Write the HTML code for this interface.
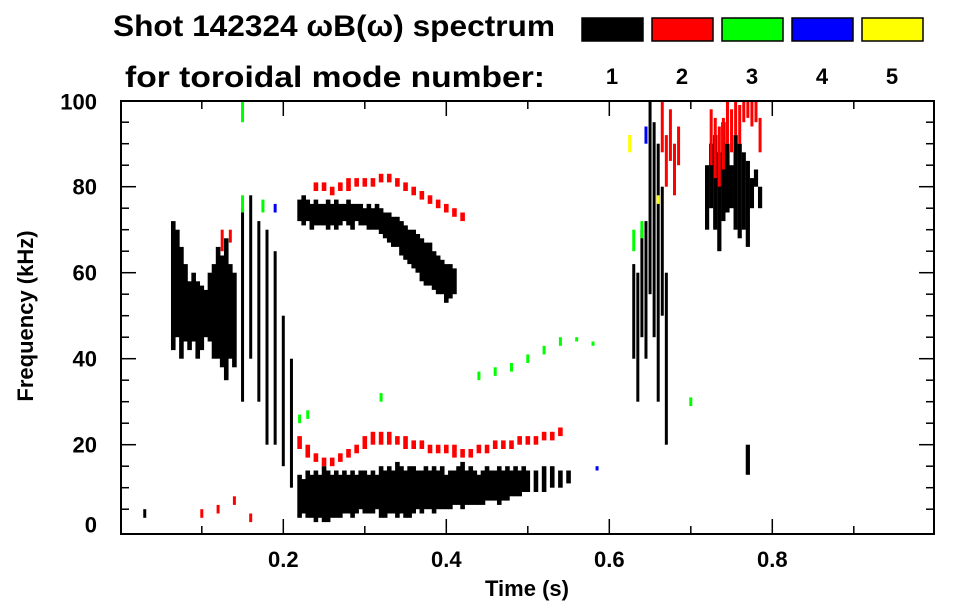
<!DOCTYPE html>
<html><head><meta charset="utf-8"><style>
html,body{margin:0;padding:0;background:#fff;}
svg{display:block;font-family:"Liberation Sans",Arial,sans-serif;font-weight:bold;}
</style></head><body>
<svg id="chart" width="963" height="615" viewBox="0 0 963 615" xmlns="http://www.w3.org/2000/svg">
<text x="113" y="36" font-size="30" textLength="442" lengthAdjust="spacingAndGlyphs">Shot 142324 ωB(ω) spectrum</text>
<text x="125" y="87" font-size="30" textLength="420" lengthAdjust="spacingAndGlyphs">for toroidal mode number:</text>
<g id="legend"></g>
<g id="marks"></g>
<g id="axes"></g>
</svg>
<script>
// ---- data ----
const modeNumbers = ["1","2","3","4","5"];
const modeColors = ["#000000","#ff0000","#00ff00","#0000ff","#ffff00"];
const xTickLabels = [0.2,0.4,0.6,0.8];
const yTickLabels = [0,20,40,60,80,100];

// black (n=1) time / low / high (kHz)
const blackT  = [0.03,0.065,0.07,0.075,0.08,0.085,0.09,0.095,0.10,0.105,0.11,0.115,0.12,0.125,0.13,0.135,0.14,0.15,0.16,0.17,0.18,0.19,0.20,0.21,
 0.22,0.225,0.23,0.235,0.24,0.245,0.25,0.255,0.26,0.265,0.27,0.275,0.28,0.285,0.29,0.295,0.30,0.305,0.31,0.315,0.32,0.325,0.33,0.335,0.34,0.345,0.35,0.355,0.36,0.365,0.37,0.375,0.38,0.385,0.39,0.395,0.40,0.405,0.41,
 0.22,0.225,0.23,0.235,0.24,0.245,0.25,0.255,0.26,0.265,0.27,0.275,0.28,0.285,0.29,0.295,0.30,0.305,0.31,0.315,0.32,0.325,0.33,0.335,0.34,0.345,0.35,0.355,0.36,0.365,0.37,0.375,0.38,0.385,0.39,0.395,0.40,0.405,0.41,0.415,0.42,0.425,0.43,0.435,0.44,0.445,0.45,0.455,0.46,0.465,0.47,0.475,0.48,0.485,0.49,0.495,0.50,0.51,0.52,0.53,0.54,0.55,
 0.63,0.635,0.64,0.645,0.65,0.655,0.66,0.665,0.67,0.72,0.725,0.73,0.735,0.74,0.745,0.75,0.755,0.76,0.765,0.77,0.775,0.78,0.785,0.77];
const blackLo = [3,42,45,40,44,42,44,40,42,45,44,40,40,38,35,40,38,30,40,30,20,20,15,10,
 72,71,72,70,71,71,71,70,71,70,71,72,71,70,72,71,71,70,70,70,69,68,67,66,66,64,63,62,61,60,58,57,57,56,55,55,53,54,55,
 3,4,3,3,2,3,2,2,3,3,3,4,4,3,4,5,4,4,4,5,3,3,4,4,3,4,3,3,4,5,4,5,5,4,5,5,5,5,6,6,5,6,6,6,6,6,7,7,7,6,7,7,8,8,8,9,9,9,9,10,10,11,
 40,30,45,40,55,45,30,50,20,70,75,70,65,72,74,75,70,68,70,66,75,80,75,13];
const blackHi = [5,72,70,66,62,58,60,58,57,56,60,62,66,64,68,62,60,75,78,72,70,65,50,40,
 77,78,77,76,77,76,76,77,76,77,76,76,77,76,76,76,75,76,75,76,75,74,74,73,73,72,71,70,70,69,68,67,67,65,64,63,62,62,61,
 13,12,14,13,14,13,15,14,13,14,13,14,13,14,13,14,14,13,14,13,15,14,15,14,16,15,14,15,15,14,14,15,14,15,14,15,13,14,14,15,16,14,15,14,13,14,15,14,14,15,14,15,14,15,14,15,14,14,15,15,14,14,
 62,60,70,72,100,95,90,80,60,85,90,92,88,95,90,85,92,90,88,86,82,84,80,20];

// red (n=2)
const redT  = [0.10,0.12,0.14,0.16,0.22,0.23,0.24,0.25,0.26,0.27,0.28,0.29,0.30,0.31,0.32,0.33,0.34,0.35,0.36,0.37,0.38,0.39,0.40,0.41,0.42,0.43,0.44,0.45,0.46,0.47,0.48,0.49,0.50,0.51,0.52,0.53,0.54,
 0.24,0.25,0.26,0.27,0.28,0.29,0.30,0.31,0.32,0.33,0.34,0.35,0.36,0.37,0.38,0.39,0.40,0.41,0.42,
 0.665,0.67,0.675,0.68,0.685,0.725,0.73,0.735,0.74,0.745,0.75,0.755,0.76,0.765,0.77,0.775,0.78,0.785,0.125,0.135];
const redLo = [3,4,6,2,19,17,16,15,15,16,17,18,19,20,20,20,20,19,19,19,18,18,18,17,17,17,18,18,19,19,19,20,20,20,21,21,22,
 79,79,78,79,79,80,80,80,81,81,80,79,78,77,76,75,74,73,72,
 88,80,86,78,85,85,82,80,84,90,88,92,90,95,96,94,95,88,65,67];
const redHi = [5,6,8,4,22,20,18,17,17,18,19,20,22,23,23,23,22,22,21,21,20,20,20,20,19,19,20,20,21,21,21,22,22,22,23,23,24,
 81,81,80,81,82,82,82,82,83,83,82,81,80,79,78,77,76,75,74,
 100,92,98,90,94,98,96,94,96,100,98,100,99,100,100,100,100,96,70,70];

// green (n=3)
const greenT  = [0.15,0.15,0.175,0.22,0.23,0.32,0.44,0.46,0.48,0.50,0.52,0.54,0.56,0.58,0.63,0.64,0.70];
const greenLo = [95,74,74,25,26,30,35,36,37,39,41,43,44,43,65,68,29];
const greenHi = [100,78,77,27,28,32,37,38,39,41,43,45,45,44,70,72,31];

// blue (n=4)
const blueT  = [0.645,0.19,0.585];
const blueLo = [90,74,14];
const blueHi = [94,76,15];

// yellow (n=5)
const yellowT  = [0.625,0.66];
const yellowLo = [88,76];
const yellowHi = [92,78];

// ---- axes functions ----
const X0=121, X1=934, Y0=534, Y1=101;
function xs(t){ return 120.3 + t*815; }
function ys(f){ return 530.7 - f*4.3; }
const NS="http://www.w3.org/2000/svg";
function mk(tag,attrs,parent){const e=document.createElementNS(NS,tag);for(const k in attrs)e.setAttribute(k,attrs[k]);parent.appendChild(e);return e;}

// legend
const lg=document.getElementById('legend');
modeNumbers.forEach((m,i)=>{
  const sw=mk('rect',{x:582+i*70,y:18,width:61,height:23,fill:modeColors[i],stroke:'#000','stroke-width':1.5},lg);
  
  
  const tx=mk('text',{x:612+i*70,y:84,'font-size':22,'text-anchor':'middle'},lg);
  tx.textContent=m;
  
  
});

// marks
const mg=document.getElementById('marks');
const series=[[blackT,blackLo,blackHi,0,'black'],[redT,redLo,redHi,1,'red'],[greenT,greenLo,greenHi,2,'green'],[blueT,blueLo,blueHi,3,'blue'],[yellowT,yellowLo,yellowHi,4,'yellow']];
series.forEach(([T,L,H,ci,nm])=>{
  for(let i=0;i<T.length;i++){
    const x=xs(T[i]), y1=ys(H[i]), y2=ys(L[i]);
    let w=3;
    if(ci<2 && T[i]>=0.22 && T[i]<=0.55) w=4.6;
    else if(ci===0 && T[i]>=0.06 && T[i]<=0.145) w=4.6;
    else if(ci===0 && T[i]>=0.72 && T[i]<=0.79) w=4.2;
    const r=mk('rect',{x:x-w/2,y:y1,width:w,height:Math.max(1.5,y2-y1),fill:modeColors[ci]},mg);
    
    
  }
});

// axes
const ax=document.getElementById('axes');
mk('rect',{x:X0,y:Y1,width:X1-X0,height:Y0-Y1,fill:'none',stroke:'#000','stroke-width':2},ax);
for(let k=1;k<10;k++){
  const t=k*0.1, x=xs(t), maj=(k%2==0);
  const len=maj?15:8;
  mk('line',{x1:x,x2:x,y1:Y0,y2:Y0-len,stroke:'#000','stroke-width':1.5},ax);
  mk('line',{x1:x,x2:x,y1:Y1,y2:Y1+len,stroke:'#000','stroke-width':1.5},ax);
}
xTickLabels.forEach(v=>{
  const t=mk('text',{x:xs(v),y:567,'font-size':22,'text-anchor':'middle'},ax);
  t.textContent=v.toFixed(1);
  
  
});
for(let f=5;f<100;f+=5){
  const y=ys(f), maj=(f%20==0), len=maj?15:8;
  mk('line',{x1:X0,x2:X0+len,y1:y,y2:y,stroke:'#000','stroke-width':1.5},ax);
  mk('line',{x1:X1,x2:X1-len,y1:y,y2:y,stroke:'#000','stroke-width':1.5},ax);
}
yTickLabels.forEach(v=>{
  const t=mk('text',{x:97,y:ys(v)+(v==100?9:v==0?2:8),'font-size':22,'text-anchor':'end'},ax);
  t.textContent=v;
  
  
});
const xt=mk('text',{x:527,y:596,'font-size':22,'text-anchor':'middle'},ax);
xt.textContent='Time (s)';


const yt=mk('text',{x:0,y:0,'font-size':22,'text-anchor':'middle',transform:'translate(33,316) rotate(-90)'},ax);
yt.textContent='Frequency (kHz)';


</script>
</body></html>
